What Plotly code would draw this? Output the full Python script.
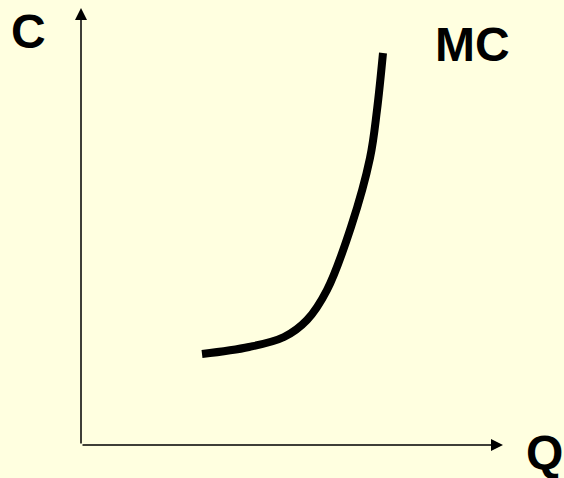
import plotly.graph_objects as go

# Marginal cost curve (Q, C) in chart units, origin at axis corner
q_values = [121, 168, 203, 226, 246, 270, 289, 296, 302]
c_values = [91, 98, 108, 125, 155, 218, 287, 335, 392]

x_label = "Q"
y_label = "C"
curve_label = "MC"

x_axis_end = 422
y_axis_end = 437

BG = "#FFFFE0"
FONT = "Liberation Sans, Arial, sans-serif"

fig = go.Figure()
fig.add_trace(go.Scatter(
    x=q_values, y=c_values, mode="lines",
    line=dict(color="black", width=8, shape="spline", smoothing=1.0),
    hoverinfo="skip", showlegend=False,
))

annotations = [
    dict(x=0, y=y_axis_end, ax=0, ay=0, xref="x", yref="y", axref="x", ayref="y",
         showarrow=True, arrowhead=2, arrowsize=1.6, arrowwidth=1.5, arrowcolor="black", text=""),
    dict(x=x_axis_end, y=0, ax=0, ay=0, xref="x", yref="y", axref="x", ayref="y",
         showarrow=True, arrowhead=2, arrowsize=1.6, arrowwidth=1.5, arrowcolor="black", text=""),
    dict(x=-53, y=414, xref="x", yref="y", text=f"<b>{y_label}</b>", showarrow=False,
         font=dict(family=FONT, size=48, color="black")),
    dict(x=391, y=401, xref="x", yref="y", text=f"<b>{curve_label}</b>", showarrow=False,
         font=dict(family=FONT, size=48, color="black")),
    dict(x=463, y=-7, xref="x", yref="y", text=f"<b>{x_label}</b>", showarrow=False,
         font=dict(family=FONT, size=48, color="black")),
]

fig.update_layout(
    width=564, height=478,
    margin=dict(l=0, r=0, t=0, b=0),
    paper_bgcolor=BG, plot_bgcolor=BG,
    xaxis=dict(range=[-81, 483], visible=False, fixedrange=True),
    yaxis=dict(range=[-33, 445], visible=False, fixedrange=True),
    annotations=annotations,
    showlegend=False,
)

fig.write_html(
    "out.html",
    config={"displayModeBar": False},
    post_script="document.body.style.margin='0';document.body.style.overflow='hidden';document.body.style.background='" + BG + "';",
)
